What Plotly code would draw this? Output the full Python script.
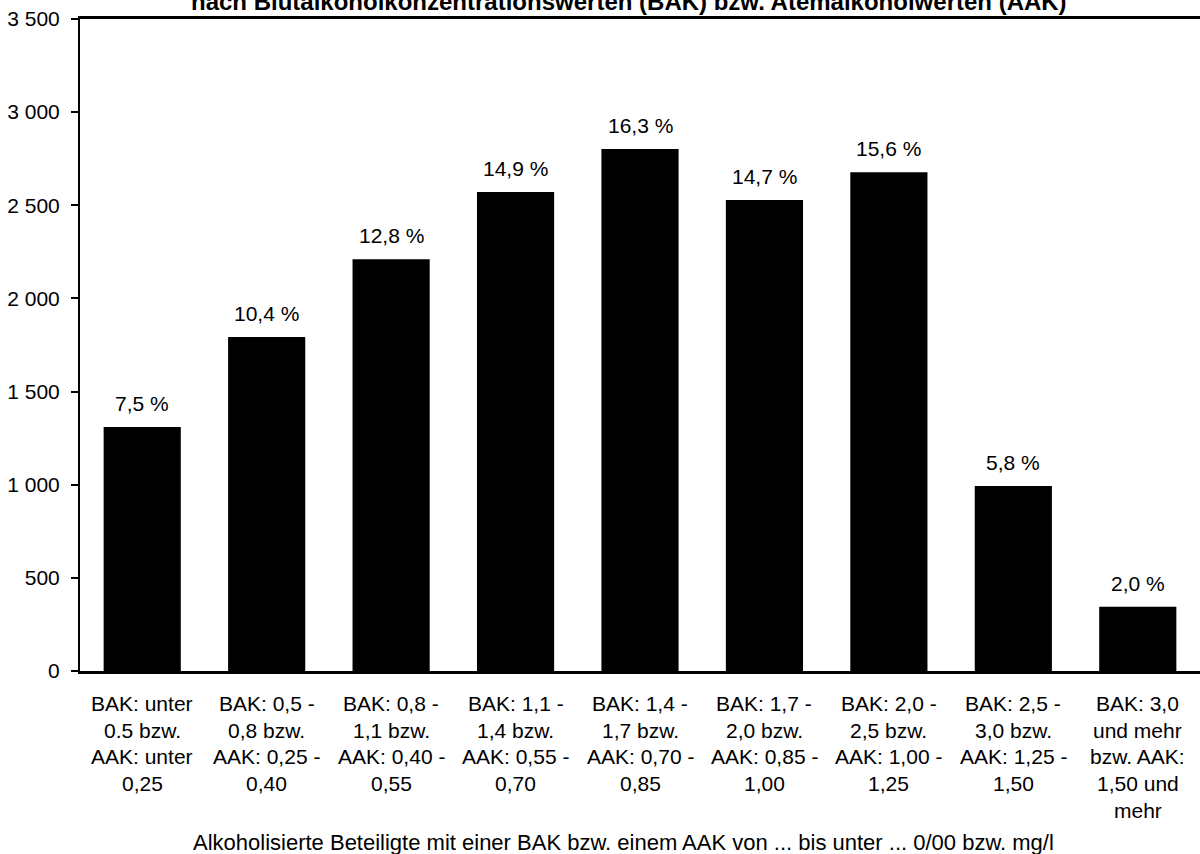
import plotly.graph_objects as go

title_text = "nach Blutalkoholkonzentrationswerten (BAK) bzw. Atemalkoholwerten (AAK)"
x_title = "Alkoholisierte Beteiligte mit einer BAK bzw. einem AAK von ... bis unter ... 0/00 bzw. mg/l"

categories = [
    "BAK: unter\n0.5 bzw.\nAAK: unter\n0,25",
    "BAK: 0,5 -\n0,8 bzw.\nAAK: 0,25 -\n0,40",
    "BAK: 0,8 -\n1,1 bzw.\nAAK: 0,40 -\n0,55",
    "BAK: 1,1 -\n1,4 bzw.\nAAK: 0,55 -\n0,70",
    "BAK: 1,4 -\n1,7 bzw.\nAAK: 0,70 -\n0,85",
    "BAK: 1,7 -\n2,0 bzw.\nAAK: 0,85 -\n1,00",
    "BAK: 2,0 -\n2,5 bzw.\nAAK: 1,00 -\n1,25",
    "BAK: 2,5 -\n3,0 bzw.\nAAK: 1,25 -\n1,50",
    "BAK: 3,0\nund mehr\nbzw. AAK:\n1,50 und\nmehr",
]
values = [1310, 1793, 2210, 2571, 2802, 2528, 2677, 993, 345]
percent_labels = ["7,5 %", "10,4 %", "12,8 %", "14,9 %", "16,3 %", "14,7 %", "15,6 %", "5,8 %", "2,0 %"]
y_ticks = [0, 500, 1000, 1500, 2000, 2500, 3000, 3500]

FONT = "Liberation Sans, Arial, sans-serif"
FS = 21

fig = go.Figure()
fig.add_trace(go.Bar(
    x=list(range(len(categories))),
    y=values,
    marker=dict(color="black", line=dict(width=0)),
    showlegend=False,
    hoverinfo="skip",
))

annotations = []
for i, (v, p) in enumerate(zip(values, percent_labels)):
    annotations.append(dict(
        x=i, y=v, xref="x", yref="y", text=p, showarrow=False,
        yanchor="bottom", yshift=10, font=dict(size=FS, color="black", family=FONT),
    ))

line_step = 26.7
for i, cat in enumerate(categories):
    for j, line in enumerate(cat.split("\n")):
        annotations.append(dict(
            x=i, y=0, xref="x", yref="paper", text=line, showarrow=False,
            yanchor="top", yshift=-(19 + j * line_step),
            font=dict(size=FS, color="black", family=FONT),
        ))

annotations.append(dict(
    x=0.485, y=0, xref="paper", yref="paper", text=x_title, showarrow=False,
    yanchor="top", yshift=-157, font=dict(size=22, color="black", family=FONT),
))
annotations.append(dict(
    x=0.49, y=1, xref="paper", yref="paper", text="<b>" + title_text + "</b>", showarrow=False,
    yanchor="bottom", yshift=2, font=dict(size=24, color="black", family=FONT),
))

fig.update_layout(
    width=1200, height=854,
    margin=dict(l=80, r=0, t=19, b=183),
    plot_bgcolor="white", paper_bgcolor="white",
    bargap=0.38,
    separators=", ",
    font=dict(family=FONT, size=FS, color="black"),
    annotations=annotations,
    xaxis=dict(
        range=[-0.5, len(categories) - 0.5],
        showticklabels=False, showgrid=False, zeroline=False,
        showline=True, linecolor="black", linewidth=3, mirror=True,
        ticks="",
    ),
    yaxis=dict(
        range=[0, 3500], tickvals=y_ticks, tickformat=",d",
        showgrid=False, zeroline=False,
        showline=True, linecolor="black", linewidth=2,
        ticks="outside", ticklen=7, tickwidth=2, tickcolor="black",
        ticklabelstandoff=7,
        tickfont=dict(size=FS, color="black", family=FONT),
    ),
)

fig.write_html("out.html", config={"displayModeBar": False},
               post_script="document.body.style.margin='0';")
